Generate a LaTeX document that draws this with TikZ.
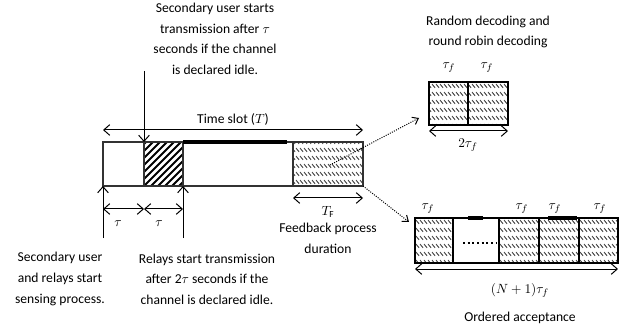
\documentclass[tikz,border=0pt]{standalone}
\usepackage{fontspec}
\setmainfont{Carlito}
\usetikzlibrary{arrows.meta,patterns}

% rows of short back-slash strokes for the feedback slots
\pgfdeclarepatternformonly{fbdash}{\pgfqpoint{-0.5pt}{-0.5pt}}{\pgfqpoint{3.5pt}{6.5pt}}{\pgfqpoint{3pt}{6pt}}{%
  \pgfsetlinewidth{0.65pt}%
  \pgfpathmoveto{\pgfqpoint{0pt}{5.2pt}}%
  \pgfpathlineto{\pgfqpoint{2.3pt}{2.4pt}}%
  \pgfusepath{stroke}}

\tikzset{every picture/.style={line width=0.75pt}}
\tikzset{
  barb/.tip={Straight Barb[length=4.5pt,width=8pt]},
  dimarrow/.style={barb-barb},
  tiparrow/.style={-barb},
  slotbox/.style={draw={rgb, 255:red, 50; green, 50; blue, 50 }, line width=1.6pt},
  fbbox/.style={draw=black, line width=2pt},
  fbcell/.style={pattern=fbdash, pattern color={rgb, 255:red, 60; green, 60; blue, 60 }},
  note/.style={font=\fontsize{10.2}{15.5}\selectfont, align=center, inner sep=0.75pt},
  lbl/.style={inner sep=0.75pt}
}

\begin{document}
\begin{tikzpicture}[x=0.75pt,y=0.75pt,yscale=-1,xscale=1]
\useasboundingbox (0,0) rectangle (631,331);

%Time slot: corners of the cells
\coordinate (s0) at (103,142); \coordinate (b0) at (103,186);
\coordinate (s1) at (144,142); \coordinate (b1) at (144,186);
\coordinate (s2) at (183,142); \coordinate (b2) at (183,186);
\coordinate (s3) at (293,142); \coordinate (b3) at (293,186);
\coordinate (s4) at (363,142); \coordinate (b4) at (363,186);
\coordinate (busy) at (287,142);

%Feedback part
\fill [fbcell] (s3) rectangle (b4);
%Sensing part (relays)
\begin{scope}
\clip (s1) rectangle (b2);
\foreach \x in {98,105,...,186}
  \draw [line width=1.5] (\x,190) -- ++(50,-50);
\end{scope}
\draw [slotbox] (s0) rectangle (b4);
\draw [slotbox] (s1) -- (b1) (s2) -- (b2) (s3) -- (b3);
\draw [line width=3] (s2) -- (busy);

%Time slot arrow
\coordinate (ts0) at (103,130); \coordinate (ts1) at (363,130);
\draw [dimarrow] (ts0) -- (ts1);
\node (tslot) [lbl, font=\fontsize{10.2}{12}\selectfont] at (233,119) {Time slot ($T$)};

%Secondary user starts
\node (sutx) [note] at (215,39) {Secondary user starts\\transmission after $\tau$\\seconds if the channel\\is declared idle.};
\coordinate (sutop) at (144,71);
\draw [tiparrow] (sutop) -- (s1);

%Sensing arrows below the slot
\coordinate (u0) at (103,238); \coordinate (u2) at (183,238);
\coordinate (d0) at (103,209); \coordinate (d1) at (144,209); \coordinate (d2) at (183,209);
\draw [tiparrow] (u0) -- (b0);
\draw [tiparrow] (u2) -- (b2);
\draw [dimarrow] (d0) -- (d1);
\draw [dimarrow] (d1) -- (d2);
\node (tau1) [lbl] at (118,224) {$\tau$};
\node (tau2) [lbl] at (159,224) {$\tau$};

\node (sense) [note] at (60,279) {Secondary user\\and relays start\\sensing process.};
\node (relay) [note] at (207,279) {Relays start transmission\\after 2$\tau$ seconds if the\\channel is declared idle.};

%Feedback duration
\coordinate (f0) at (293,198); \coordinate (f1) at (363,198);
\draw [dimarrow] (f0) -- (f1);
\node (tf) [lbl] at (328,212) {$T_{\mathrm{F}}$};
\node (fbtx) [note] at (328,238) {Feedback process\\duration};

%Random / round robin decoding
\coordinate (r0) at (429,82); \coordinate (r1) at (468,82); \coordinate (r2) at (508,82);
\coordinate (q0) at (429,125); \coordinate (q1) at (468,125); \coordinate (q2) at (508,125);
\fill [fbcell] (r0) rectangle (q2);
\draw [fbbox] (r0) rectangle (q2);
\draw [fbbox] (r1) -- (q1);
\node (rrtau1) [lbl] at (449,68) {$\tau_f$};
\node (rrtau2) [lbl] at (487,68) {$\tau_f$};
\coordinate (rd0) at (429,131); \coordinate (rd1) at (508,131);
\draw [dimarrow] (rd0) -- (rd1);
\node (rrlen) [lbl] at (468,145) {$2\tau_f$};
\node (rrtx) [note] at (488,32) {Random decoding and\\round robin decoding};

%Ordered acceptance
\coordinate (o0) at (415,218); \coordinate (p0) at (415,263);
\coordinate (o1) at (453,218); \coordinate (p1) at (453,263);
\coordinate (o2) at (499,218); \coordinate (p2) at (499,263);
\coordinate (o3) at (539,218); \coordinate (p3) at (539,263);
\coordinate (o4) at (579,218); \coordinate (p4) at (579,263);
\coordinate (o5) at (618,218); \coordinate (p5) at (618,263);
\fill [fbcell] (o0) rectangle (p1);
\fill [fbcell] (o2) rectangle (p5);
\draw [fbbox] (o0) rectangle (p5);
\draw [fbbox] (o1) -- (p1) (o2) -- (p2) (o3) -- (p3) (o4) -- (p4);
\coordinate (gap0) at (463,243); \coordinate (gap1) at (497,243);
\draw [line width=1.5, dotted] (gap0) -- (gap1);
\coordinate (m0) at (468,218); \coordinate (m1) at (483,218);
\coordinate (m2) at (548,218); \coordinate (m3) at (577,218);
\draw [line width=3.5] (m0) -- (m1) (m2) -- (m3);
\node (oatau1) [lbl] at (428,209) {$\tau_f$};
\node (oatau3) [lbl] at (522,209) {$\tau_f$};
\node (oatau4) [lbl] at (555,209) {$\tau_f$};
\node (oatau5) [lbl] at (600,209) {$\tau_f$};
\coordinate (od0) at (415,269); \coordinate (od1) at (618,269);
\draw [dimarrow] (od0) -- (od1);
\node (oalen) [lbl] at (520,290) {$(N+1)\tau_f$};
\node (oatx) [note] at (520,318) {Ordered acceptance};

%Dotted pointers from the feedback part
\coordinate (fbmid) at (330,165); \coordinate (rrtip) at (419,118);
\coordinate (oatip) at (409,222);
\draw [densely dotted, -{Straight Barb[length=4pt,width=6pt]}] (fbmid) -- (rrtip);
\draw [densely dotted, -{Straight Barb[length=4pt,width=6pt]}] (b4) -- (oatip);

\end{tikzpicture}
\end{document}
